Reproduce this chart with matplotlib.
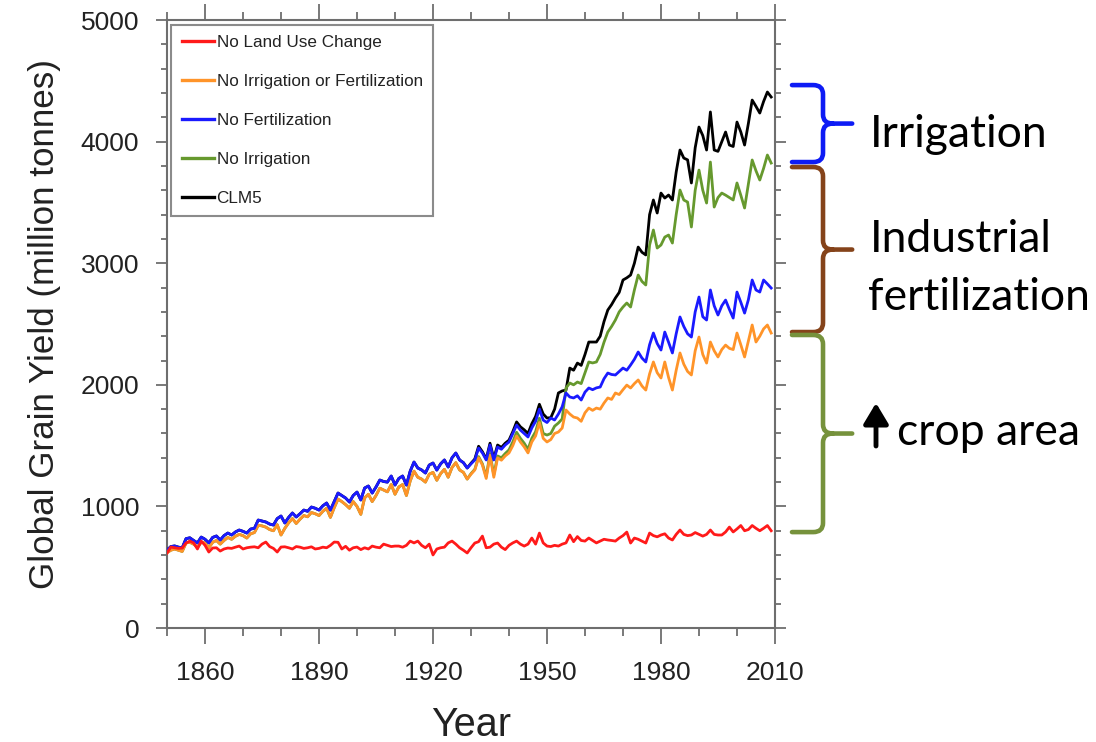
import matplotlib
matplotlib.use("Agg")
import matplotlib.pyplot as plt
import matplotlib.transforms as mtransforms
from matplotlib.path import Path
from matplotlib.patches import PathPatch
from matplotlib.ticker import MultipleLocator

plt.rcParams['font.family'] = ['Liberation Sans', 'DejaVu Sans']

# Global grain yield (million tonnes), one value per year 1850-2009
YEARS = list(range(1850, 2010))

no_luc = [
    617, 666, 660, 655, 658, 699, 715, 700, 650, 715,
    680, 625, 658, 660, 633, 650, 658, 655, 665, 674,
    650, 660, 665, 668, 660, 690, 707, 670, 655, 625,
    666, 668, 660, 650, 670, 665, 655, 660, 668, 650,
    655, 665, 660, 680, 707, 705, 650, 672, 640, 660,
    666, 645, 660, 650, 674, 665, 660, 690, 680, 670,
    674, 674, 665, 680, 715, 700, 715, 680, 660, 690,
    601, 650, 660, 665, 700, 715, 690, 660, 640, 617,
    660, 699, 710, 756, 660, 665, 690, 699, 665, 645,
    680, 700, 715, 690, 674, 690, 740, 690, 781, 700,
    674, 670, 680, 674, 690, 700, 765, 710, 752, 720,
    715, 740, 720, 700, 715, 730, 724, 720, 715, 740,
    760, 789, 699, 740, 730, 715, 699, 781, 760, 750,
    765, 775, 740, 724, 770, 806, 770, 760, 765, 785,
    770, 756, 770, 806, 770, 765, 765, 790, 830, 790,
    815, 843, 800, 810, 843, 820, 800, 820, 843, 800,
]

no_irr_fert = [
    620, 640, 650, 640, 630, 700, 705, 690, 665, 705,
    700, 660, 705, 720, 690, 720, 745, 730, 755, 770,
    760, 740, 775, 785, 845, 840, 830, 810, 800, 850,
    765, 820, 865, 900, 860, 895, 925, 915, 950, 940,
    925, 960, 985, 910, 990, 1060, 1040, 1015, 985, 1040,
    1000, 935, 1070, 1100, 1040, 1090, 1150, 1135, 1120, 1180,
    1100, 1160, 1180, 1090, 1210, 1290, 1240, 1225, 1200, 1265,
    1280, 1215, 1270, 1305, 1240, 1320, 1360, 1300, 1280, 1225,
    1265, 1300, 1400, 1340, 1230, 1420, 1240, 1400, 1380, 1415,
    1440, 1500, 1580, 1530, 1490, 1440, 1530, 1580, 1690, 1560,
    1530, 1550, 1600, 1612, 1645, 1793, 1760, 1735, 1727, 1700,
    1770, 1809, 1790, 1809, 1800, 1850, 1892, 1880, 1933, 1920,
    1960, 1998, 1974, 2010, 2040, 1990, 1957, 2090, 2188, 2100,
    2056, 2188, 2060, 1957, 2120, 2262, 2170, 2110, 2081, 2280,
    2393, 2250, 2179, 2352, 2280, 2229, 2290, 2327, 2300, 2290,
    2426, 2330, 2229, 2360, 2492, 2352, 2400, 2460, 2492, 2426,
]

no_fert = [
    640, 670, 675, 665, 660, 735, 742, 720, 700, 748,
    730, 700, 745, 757, 724, 760, 781, 765, 790, 806,
    795, 781, 814, 820, 888, 880, 872, 855, 847, 900,
    921, 864, 910, 946, 913, 940, 970, 960, 995, 985,
    970, 1005, 1028, 970, 1040, 1110, 1090, 1069, 1036, 1090,
    1118, 1053, 1151, 1168, 1110, 1160, 1217, 1205, 1200, 1250,
    1176, 1230, 1250, 1176, 1290, 1365, 1316, 1300, 1275, 1340,
    1357, 1299, 1350, 1382, 1324, 1400, 1439, 1382, 1360, 1316,
    1350, 1382, 1480, 1440, 1382, 1505, 1382, 1489, 1470, 1505,
    1530, 1600, 1669, 1628, 1600, 1571, 1645, 1700, 1801, 1710,
    1690, 1727, 1711, 1760, 1820, 1933, 1900, 1892, 1910, 1875,
    1940, 1974, 1960, 1975, 1982, 2050, 2097, 2085, 2081, 2110,
    2138, 2120, 2163, 2210, 2270, 2220, 2188, 2330, 2426, 2340,
    2286, 2434, 2350, 2262, 2420, 2558, 2480, 2420, 2393, 2600,
    2722, 2560, 2533, 2780, 2650, 2574, 2650, 2697, 2620, 2549,
    2763, 2680, 2590, 2700, 2862, 2780, 2763, 2862, 2830, 2796,
]

no_irr = [
    620, 640, 650, 640, 630, 700, 705, 690, 665, 705,
    700, 660, 705, 720, 690, 720, 745, 730, 755, 770,
    760, 740, 775, 785, 845, 840, 830, 810, 800, 850,
    765, 820, 865, 900, 860, 895, 925, 915, 950, 940,
    925, 960, 985, 910, 990, 1060, 1040, 1015, 985, 1040,
    1000, 935, 1070, 1100, 1040, 1090, 1150, 1135, 1120, 1180,
    1100, 1160, 1180, 1090, 1210, 1290, 1240, 1225, 1200, 1265,
    1280, 1215, 1270, 1305, 1240, 1320, 1360, 1300, 1280, 1225,
    1270, 1305, 1410, 1350, 1245, 1435, 1260, 1415, 1400, 1435,
    1465, 1530, 1610, 1560, 1520, 1470, 1560, 1615, 1725, 1600,
    1587, 1600, 1660, 1686, 1720, 1974, 2015, 2000, 2023, 2010,
    2100, 2188, 2180, 2188, 2250, 2350, 2434, 2480, 2533, 2600,
    2640, 2673, 2640, 2780, 2903, 2850, 2821, 3150, 3273, 3125,
    3150, 3215, 3232, 3166, 3400, 3602, 3520, 3503, 3298, 3600,
    3766, 3600, 3495, 3832, 3462, 3540, 3577, 3560, 3540, 3520,
    3660, 3560, 3454, 3650, 3849, 3760, 3684, 3780, 3890, 3824,
]

clm5 = [
    640, 670, 675, 665, 660, 735, 742, 720, 700, 748,
    730, 700, 745, 757, 724, 760, 781, 765, 790, 806,
    795, 781, 814, 820, 888, 880, 872, 855, 847, 900,
    921, 864, 910, 946, 913, 940, 970, 960, 995, 985,
    970, 1005, 1028, 970, 1040, 1110, 1090, 1069, 1036, 1090,
    1118, 1053, 1151, 1168, 1110, 1160, 1217, 1205, 1200, 1250,
    1176, 1230, 1250, 1176, 1290, 1365, 1316, 1300, 1275, 1340,
    1357, 1299, 1350, 1382, 1324, 1400, 1439, 1382, 1360, 1316,
    1355, 1390, 1495, 1450, 1390, 1520, 1395, 1505, 1485, 1520,
    1545, 1615, 1695, 1655, 1630, 1600, 1680, 1740, 1840, 1760,
    1727, 1730, 1800, 1933, 1950, 1957, 2138, 2120, 2179, 2160,
    2250, 2352, 2352, 2352, 2400, 2520, 2615, 2660, 2714, 2760,
    2862, 2880, 2903, 3000, 3133, 3090, 3068, 3400, 3520, 3413,
    3577, 3536, 3561, 3520, 3750, 3931, 3865, 3850, 3660, 3950,
    4120, 4050, 3931, 4244, 3931, 3920, 4000, 4079, 3972, 3960,
    4161, 4080, 3972, 4150, 4342, 4290, 4235, 4330, 4408, 4367,
]

SERIES_LABELS = ["No Land Use Change", "No Irrigation or Fertilization",
                 "No Fertilization", "No Irrigation", "CLM5"]
SERIES_COLORS = ["#ff1a1a", "#ff9429", "#1a1aff", "#66992e", "#000000"]

# bracket spans (million tonnes) explaining the gaps between runs
brackets = [
    (4465, 3832, "#0d1bf5"),
    (3791, 2434, "#85431a"),
    (2410, 789, "#76923c"),
]

FRAME = "#6e6e6e"
TEXT = "#222222"

fig = plt.figure(figsize=(10.96, 7.42), dpi=100)
ax = fig.add_axes([0.1524, 0.1536, 0.5547, 0.8194])

data = [no_luc, no_irr_fert, no_fert, no_irr, clm5]
# CLM5 and No Irrigation sit underneath the other runs
zorders = [6, 5, 5, 4, 3]
for vals, lab, col, z in zip(data, SERIES_LABELS, SERIES_COLORS, zorders):
    ax.plot(YEARS, vals, color=col, lw=2.0, label=lab, zorder=z)

ax.set_xlim(1850, 2010)
ax.set_ylim(0, 5000)
ax.set_xticks(range(1860, 2011, 30))
ax.xaxis.set_minor_locator(MultipleLocator(10))
ax.yaxis.set_major_locator(MultipleLocator(1000))
ax.yaxis.set_minor_locator(MultipleLocator(200))

for sp in ax.spines.values():
    sp.set_color(FRAME)
    sp.set_linewidth(1.5)

ax.tick_params(which='both', direction='out', top=True, right=True,
               color=FRAME, width=1.3, labelsize=19, labelcolor=TEXT)
ax.tick_params(axis='x', which='major', length=11.5, pad=12)
ax.tick_params(axis='x', which='minor', length=5.8)
ax.tick_params(axis='y', which='major', length=8, pad=12)
ax.tick_params(axis='y', which='minor', length=4)

ax.set_xlabel("Year", fontsize=28.5, color=TEXT, labelpad=15)
ax.set_ylabel("Global Grain Yield (million tonnes)", fontsize=25.2,
              color=TEXT, labelpad=14)

leg = ax.legend(loc='upper left', bbox_to_anchor=(0.007, 0.992),
                borderaxespad=0, fontsize=12.3, frameon=True, fancybox=False,
                handlelength=1.9, handletextpad=0.15, labelspacing=1.4,
                borderpad=0.6)
leg.get_frame().set_edgecolor(FRAME)
leg.get_frame().set_linewidth(1.5)
for t in leg.get_texts():
    t.set_color(TEXT)
for h in leg.get_lines():
    h.set_linewidth(2.4)

# curly brackets to the right of the plot
trans = mtransforms.blended_transform_factory(ax.transAxes, ax.transData)


def draw_bracket(y_top, y_bot, color):
    xa, xb, xc = 1.028, 1.079, 1.127
    rx, ry = 0.016, 75
    ym = (y_top + y_bot) / 2
    verts = [(xa, y_top), (xb - rx, y_top), (xb, y_top), (xb, y_top - ry),
             (xb, ym + ry), (xb, ym), (xb + rx, ym), (xc, ym),
             (xb + rx, ym), (xb, ym), (xb, ym - ry),
             (xb, y_bot + ry), (xb, y_bot), (xb - rx, y_bot), (xa, y_bot)]
    codes = [Path.MOVETO, Path.LINETO, Path.CURVE3, Path.CURVE3,
             Path.LINETO, Path.CURVE3, Path.CURVE3, Path.LINETO,
             Path.MOVETO, Path.CURVE3, Path.CURVE3,
             Path.LINETO, Path.CURVE3, Path.CURVE3, Path.LINETO]
    patch = PathPatch(Path(verts, codes), transform=trans, fill=False,
                      edgecolor=color, lw=3.3, capstyle='round',
                      joinstyle='round', clip_on=False)
    ax.add_patch(patch)


for top, bot, col in brackets:
    draw_bracket(top, bot, col)

W, H = 1096.0, 742.0
side_font = dict(fontfamily='Lato', fontsize=32, color='black', va='baseline')
fig.text(870 / W, 1 - 147 / H, "Irrigation", **side_font)
fig.text(870 / W, 1 - 252 / H, "Industrial", **side_font)
fig.text(868 / W, 1 - 310 / H, "fertilization", **side_font)
fig.text(897 / W, 1 - 445 / H, "crop area", **side_font)

ax.annotate('', xy=(876 / W, 1 - 403 / H), xytext=(876 / W, 1 - 446 / H),
            xycoords='figure fraction', textcoords='figure fraction',
            arrowprops=dict(arrowstyle='-|>,head_length=0.5,head_width=0.3',
                            lw=3.5, color='black', shrinkA=0, shrinkB=0,
                            mutation_scale=25))

fig.savefig("out.png", dpi=100)
